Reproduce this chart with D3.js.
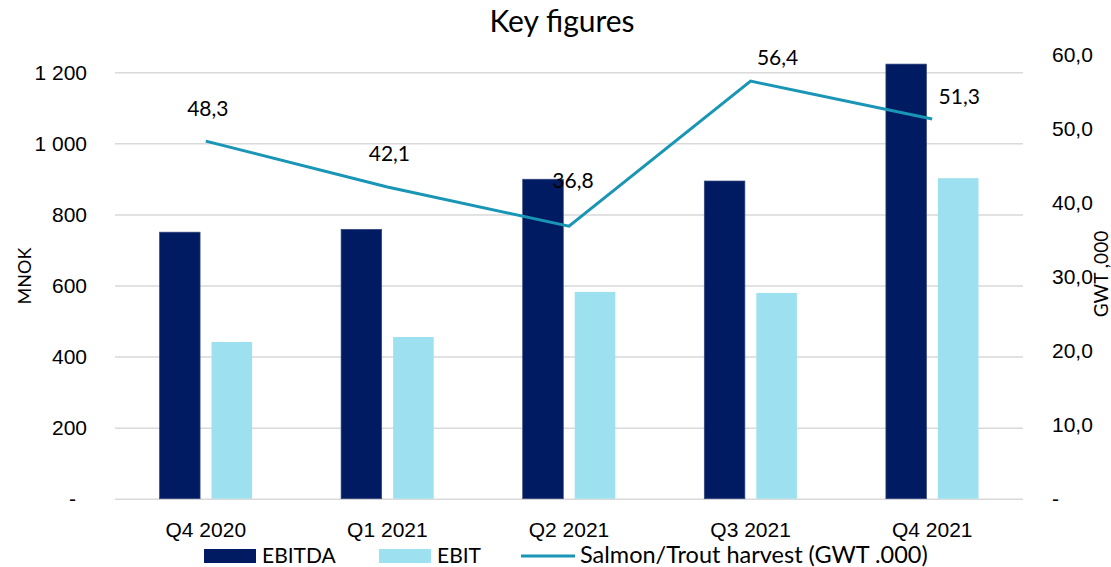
<!DOCTYPE html>
<html>
<head>
<meta charset="utf-8">
<script src="https://cdn.jsdelivr.net/npm/d3@7"></script>
<style>
  body { margin: 0; background: #fff; }
  svg { font-family: Lato, "Open Sans", sans-serif; }
  .grid line { stroke: #d9d9d9; stroke-width: 1.5; }
  .axis text { fill: #000; font-size: 21px; }
</style>
</head>
<body>
<svg id="chart" width="1111" height="567"></svg>
<script>

//Chart data
var categories = ["Q4 2020", "Q1 2021", "Q2 2021", "Q3 2021", "Q4 2021"];
var ebitda = [750, 758, 899, 894, 1223];
var ebit = [441, 455, 582, 579, 902];
var harvest = [48.3, 42.1, 36.8, 56.4, 51.3];
var leftTicks = [0, 200, 400, 600, 800, 1000, 1200];
var rightTicks = [0, 10, 20, 30, 40, 50, 60];
var seriesNames = ["EBITDA", "EBIT", "Salmon/Trout harvest (GWT .000)"];

//label nudges (dx, dy) around each line point, like the moved labels in the picture
var labelNudge = [[2, -32], [2, -33], [4, -46], [27, -24], [27, -22]];

var svg = d3.select("#chart");

var plotLeft = 115, plotRight = 1023, plotTop = 54.5, plotBottom = 498.7;

var x = d3.scaleBand().domain(categories).range([plotLeft, plotRight]);
var inner = d3.scaleBand().domain(["EBITDA", "EBIT"]).range([-46.3, 46.3]).paddingInner(0.22);
var yL = d3.scaleLinear().domain([0, 1250]).range([plotBottom, plotTop]);
var yR = d3.scaleLinear().domain([0, 60]).range([plotBottom, plotTop]);

//Title
svg.append("text")
    .attr("x", 562).attr("y", 32)
    .attr("text-anchor", "middle")
    .style("font-size", "30px")
    .text("Key figures");

//Left axis with gridlines
var gLeft = svg.append("g")
    .attr("class", "axis grid")
    .attr("transform", `translate(${plotLeft},0)`)
    .call(d3.axisLeft(yL)
        .tickValues(leftTicks)
        .tickSize(-(plotRight - plotLeft))
        .tickPadding(28)
        .tickFormat(d => d === 0 ? "-" : d3.format(",")(d).replace(",", " ")));
gLeft.select(".domain").remove();
gLeft.selectAll("text").filter(d => d === 0).attr("dx", -11);

//Right axis
var gRight = svg.append("g")
    .attr("class", "axis")
    .attr("transform", `translate(${plotRight},0)`)
    .call(d3.axisRight(yR)
        .tickValues(rightTicks)
        .tickSize(0)
        .tickPadding(29)
        .tickFormat(d => d === 0 ? "-" : d3.format(".1f")(d).replace(".", ",")));
gRight.select(".domain").remove();

//Category axis
var gBottom = svg.append("g")
    .attr("class", "axis")
    .attr("transform", `translate(0,${plotBottom})`)
    .call(d3.axisBottom(x).tickSize(0).tickPadding(23));
gBottom.select(".domain").remove();

//Axis titles
svg.append("text")
    .attr("transform", "translate(31,276) rotate(-90)")
    .attr("text-anchor", "middle")
    .style("font-size", "18px")
    .text("MNOK");

svg.append("text")
    .attr("transform", "translate(1108,274) rotate(-90)")
    .attr("text-anchor", "middle")
    .style("font-size", "19px")
    .text("GWT ,000");

//Bars
svg.append("g").selectAll("rect")
    .data(ebitda)
    .join("rect")
    .attr("x", (d, i) => x(categories[i]) + x.bandwidth() / 2 + inner("EBITDA"))
    .attr("y", d => yL(d))
    .attr("width", inner.bandwidth())
    .attr("height", d => yL(0) - yL(d))
    .attr("fill", "#001b61")
    .attr("stroke", "#35487f")
    .attr("stroke-width", 0.7);

svg.append("g").selectAll("rect")
    .data(ebit)
    .join("rect")
    .attr("x", (d, i) => x(categories[i]) + x.bandwidth() / 2 + inner("EBIT"))
    .attr("y", d => yL(d))
    .attr("width", inner.bandwidth())
    .attr("height", d => yL(0) - yL(d))
    .attr("fill", "#9de1f0");

//Harvest line
var line = d3.line()
    .x((d, i) => x(categories[i]) + x.bandwidth() / 2)
    .y(d => yR(d));

svg.append("path")
    .datum(harvest)
    .attr("d", line)
    .attr("fill", "none")
    .attr("stroke", "#1995b5")
    .attr("stroke-width", 3);

svg.append("g").selectAll("text")
    .data(harvest)
    .join("text")
    .attr("x", (d, i) => x(categories[i]) + x.bandwidth() / 2 + labelNudge[i][0])
    .attr("y", (d, i) => yR(d) + labelNudge[i][1])
    .attr("dy", "0.35em")
    .attr("text-anchor", "middle")
    .style("font-size", "21px")
    .text(d => d3.format(".1f")(d).replace(".", ","));

//Legend
var legend = svg.append("g").style("font-size", "21px");

legend.append("rect").attr("x", 204).attr("y", 549).attr("width", 52).attr("height", 14).attr("fill", "#001b61");
legend.append("text").attr("x", 262).attr("y", 563).text(seriesNames[0]);

legend.append("rect").attr("x", 379).attr("y", 549).attr("width", 52).attr("height", 14).attr("fill", "#9de1f0");
legend.append("text").attr("x", 437).attr("y", 563).text(seriesNames[1]);

legend.append("line").attr("x1", 521).attr("x2", 575).attr("y1", 556).attr("y2", 556)
    .attr("stroke", "#1995b5").attr("stroke-width", 3);
legend.append("text").attr("x", 580).attr("y", 563).style("font-size", "23.5px").text(seriesNames[2]);

</script>
</body>
</html>
